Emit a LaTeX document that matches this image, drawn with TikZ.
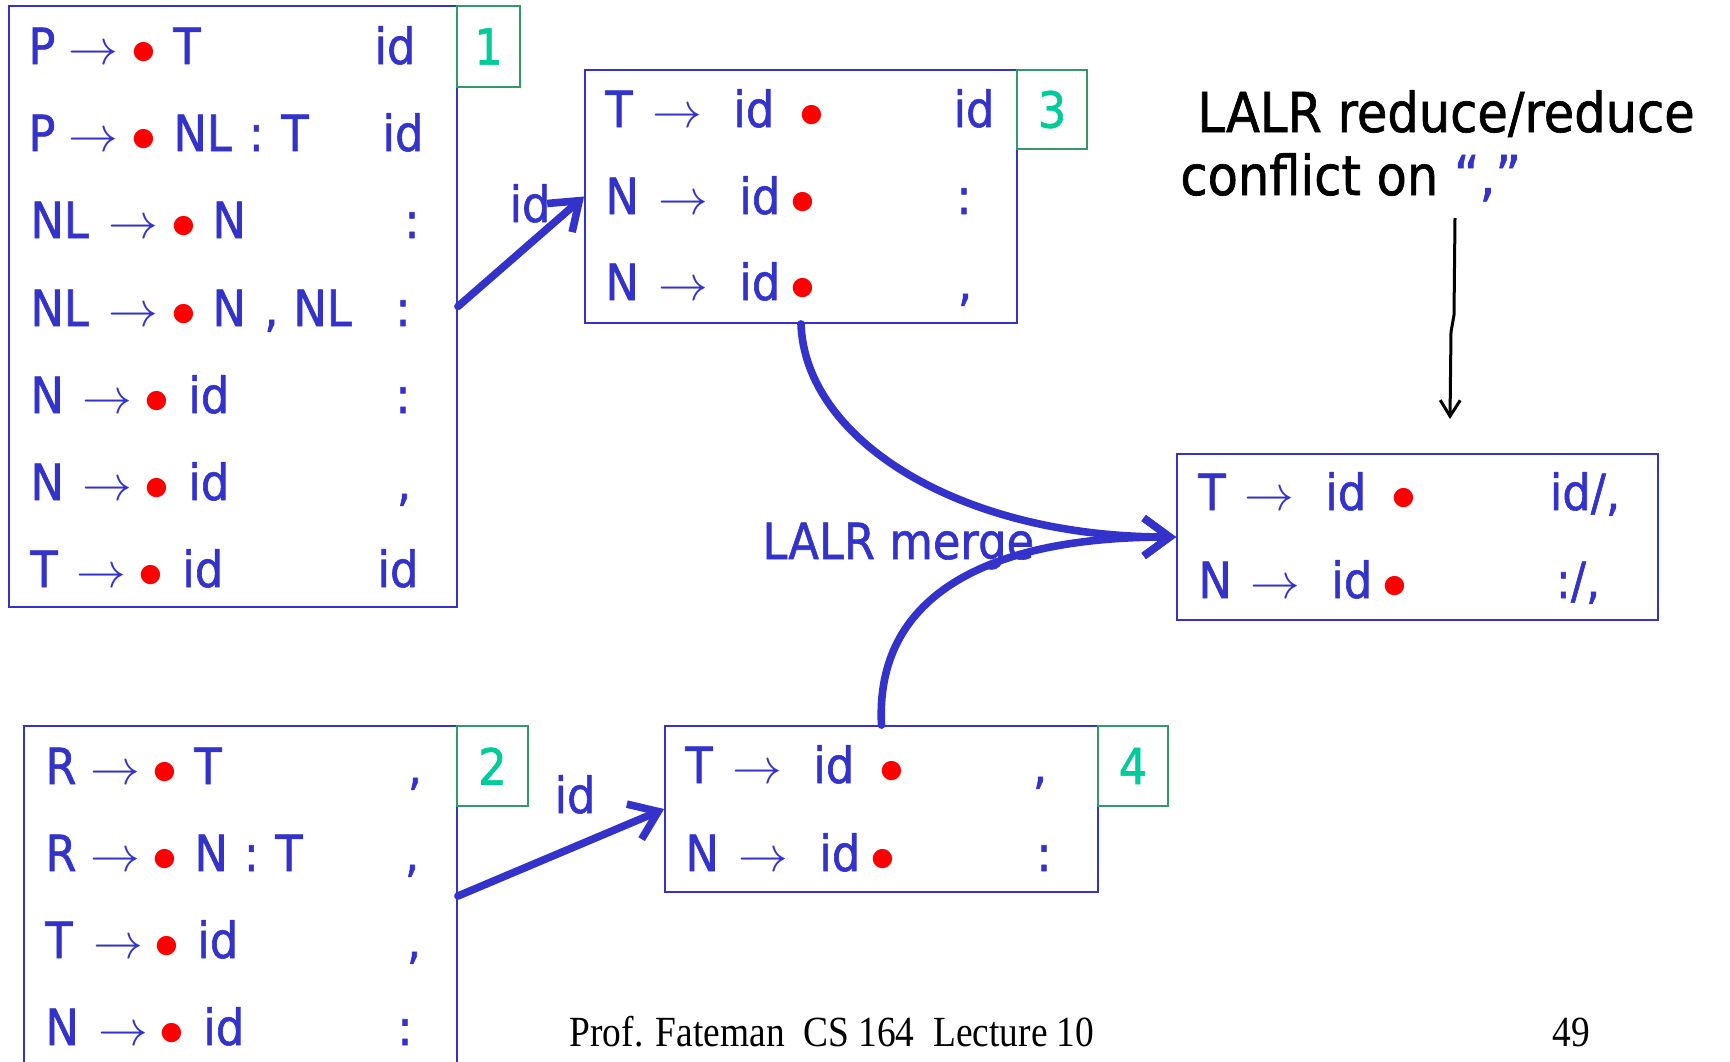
\documentclass[tikz,border=0pt]{standalone}
\usepackage{fontspec}
\usetikzlibrary{arrows.meta,fit}
\newfontfamily\handfont[FakeStretch=0.9,FakeBold=1.2]{DejaVu Sans}
\newfontfamily\footfont[FakeStretch=0.87]{Liberation Serif}
\definecolor{itemblue}{RGB}{51,51,204}
\definecolor{numgreen}{RGB}{0,204,153}
\definecolor{numframe}{RGB}{51,153,102}
\newdimen\pxu \pxu=0.5pt
\newcommand\pc[2]{\makebox[0pt][l]{\hspace{#1\pxu}#2}}
\newcommand\pcc[2]{\makebox[0pt][l]{\hspace{#1\pxu}\makebox[0pt][c]{#2}}}
\newcommand\parr[1]{\pcc{#1}{$\rightarrow$}}
\newcommand\pdot[1]{\pcc{#1}{\textcolor{red}{$\bullet$}}}
\newcommand\itemfont{\handfont\fontsize{24.88}{29}\selectfont}
\newcommand\bigfont{\handfont\fontsize{27.5}{32}\selectfont}
\tikzset{
  box/.style={draw=itemblue, line width=0.9pt, inner sep=0pt},
  numbox/.style={draw=numframe, line width=0.9pt, inner sep=0pt},
  numtext/.style={inner sep=0pt, text=numgreen, font=\itemfont},
  row/.style={anchor=base west, inner sep=0pt, text=itemblue, font=\itemfont},
  la/.style={anchor=base, inner sep=0pt, text=itemblue, font=\itemfont},
  conn/.style={draw=itemblue, line width=3.8pt, line cap=round,
    -{Straight Barb[length=13pt,width=19pt]}},
  note/.style={anchor=base west, inner sep=0pt, text=black, font=\bigfont},
  foot/.style={anchor=base, inner sep=0pt, text=black, font=\footfont\fontsize{21.5}{25}\selectfont}
}
\begin{document}
\begin{tikzpicture}[x=0.5pt, y=-0.5pt]
\useasboundingbox (0,0) rectangle (1730,1061);
\clip (0,0) rectangle (1730,1061);

% ---------- boxes ----------
\node[box, fit={(9,6) (457,607)}] (box1) {};
\node[numbox, fit={(457,6) (520,87)}] (n1) {};
\node[numtext] (t1) at (n1.center) {1};
\node[box, fit={(24,726) (457,1066)}] (box2) {};
\node[numbox, fit={(457,726) (528,806)}] (n2) {};
\node[numtext] (t2) at (n2.center) {2};
\node[box, fit={(585,70) (1017,323)}] (box3) {};
\node[numbox, fit={(1017,70) (1087,149)}] (n3) {};
\node[numtext] (t3) at (n3.center) {3};
\node[box, fit={(665,726) (1098,892)}] (box4) {};
\node[numbox, fit={(1098,726) (1168,806)}] (n4) {};
\node[numtext] (t4) at (n4.center) {4};
\node[box, fit={(1177,454) (1658,620)}] (mbox) {};

% ---------- box 1 ----------
\node[row] (b1r1) at (27,64)  {\pc{0}{P}\parr{65}\pdot{116}\pc{145}{T}};
\node[row] (b1r2) at (27,151) {\pc{0}{P}\parr{65}\pdot{116}\pc{145}{NL}\pcc{228}{:}\pc{253}{T}};
\node[row] (b1r3) at (29,238) {\pc{0}{NL}\parr{103}\pdot{154}\pc{182}{N}};
\node[row] (b1r4) at (29,326) {\pc{0}{NL}\parr{103}\pdot{154}\pc{182}{N}\pcc{241}{,}\pc{263}{NL}};
\node[row] (b1r5) at (29,413) {\pc{0}{N}\parr{77}\pdot{127}\pc{158}{id}};
\node[row] (b1r6) at (29,500) {\pc{0}{N}\parr{77}\pdot{127}\pc{158}{id}};
\node[row] (b1r7) at (29,587) {\pc{0}{T}\parr{71}\pdot{121}\pc{152}{id}};
\node[la] (b1l1) at (395,64)  {id};
\node[la] (b1l2) at (403,151) {id};
\node[la] (b1l3) at (412,238) {:};
\node[la] (b1l4) at (403,326) {:};
\node[la] (b1l5) at (403,413) {:};
\node[la] (b1l6) at (404,500) {,};
\node[la] (b1l7) at (398,587) {id};

% ---------- box 2 ----------
\node[row] (b2r1) at (44,784)  {\pc{0}{R}\parr{70}\pdot{120}\pc{149}{T}};
\node[row] (b2r2) at (44,871)  {\pc{0}{R}\parr{70}\pdot{120}\pc{149}{N}\pcc{206}{:}\pc{230}{T}};
\node[row] (b2r3) at (44,958)  {\pc{0}{T}\parr{73}\pdot{122}\pc{152}{id}};
\node[row] (b2r4) at (44,1045) {\pc{0}{N}\parr{78}\pdot{127}\pc{158}{id}};
\node[la] (b2l1) at (415,784)  {,};
\node[la] (b2l2) at (412,871)  {,};
\node[la] (b2l3) at (414,958)  {,};
\node[la] (b2l4) at (405,1045) {:};

% ---------- box 3 ----------
\node[row] (b3r1) at (604,127) {\pc{0}{T}\parr{72}\pc{128}{id}\pdot{207}};
\node[row] (b3r2) at (604,214) {\pc{0}{N}\parr{78}\pc{134}{id}\pdot{198}};
\node[row] (b3r3) at (604,300) {\pc{0}{N}\parr{78}\pc{134}{id}\pdot{198}};
\node[la] (b3l1) at (974,127) {id};
\node[la] (b3l2) at (964,214) {:};
\node[la] (b3l3) at (965,300) {,};

% ---------- box 4 ----------
\node[row] (b4r1) at (684,783) {\pc{0}{T}\parr{72}\pc{128}{id}\pdot{207}};
\node[row] (b4r2) at (684,871) {\pc{0}{N}\parr{78}\pc{134}{id}\pdot{198}};
\node[la] (b4l1) at (1040,783) {,};
\node[la] (b4l2) at (1044,871) {:};

% ---------- merged box ----------
\node[row] (mr1) at (1197,510) {\pc{0}{T}\parr{71}\pc{127}{id}\pdot{206}};
\node[row] (mr2) at (1197,598) {\pc{0}{N}\parr{77}\pc{133}{id}\pdot{197}};
\node[la] (ml1) at (1585,510) {id/,};
\node[la] (ml2) at (1578,598) {:/,};

% ---------- connectors ----------
\draw[conn] (box1.east) -- (box3.west);
\node[la] (lid1) at (530,222) {id};
\draw[conn] (box2.east) -- (box4.west);
\node[la] (lid2) at (575,813) {id};
\draw[conn] (box3.south) .. controls (805,440) and (960,537) .. (mbox.west);
\draw[conn] (box4.north) .. controls (875,600) and (980,537) .. (mbox.west);
\node[row] (merge) at (762,559) {LALR merge};

% ---------- conflict note ----------
\node[note] (ct1) at (1197,132) {LALR reduce/reduce};
\node[note] (ct2) at (1180,195) {conflict on \textcolor{itemblue}{\textquotedblleft,\textquotedblright}};
\coordinate (cs) at (1455,218);
\coordinate (ce) at (1450,419);
\draw[line width=1.5pt, -{Straight Barb[length=8pt,width=10pt]}] (cs) -- (1454,315) -- (1451,332) -- (ce);

% ---------- footer ----------
\node[foot] (footer) at (832,1046) {Prof. Fateman~~CS 164~~Lecture 10};
\node[foot] (page) at (1571,1046) {49};
\end{tikzpicture}
\end{document}
